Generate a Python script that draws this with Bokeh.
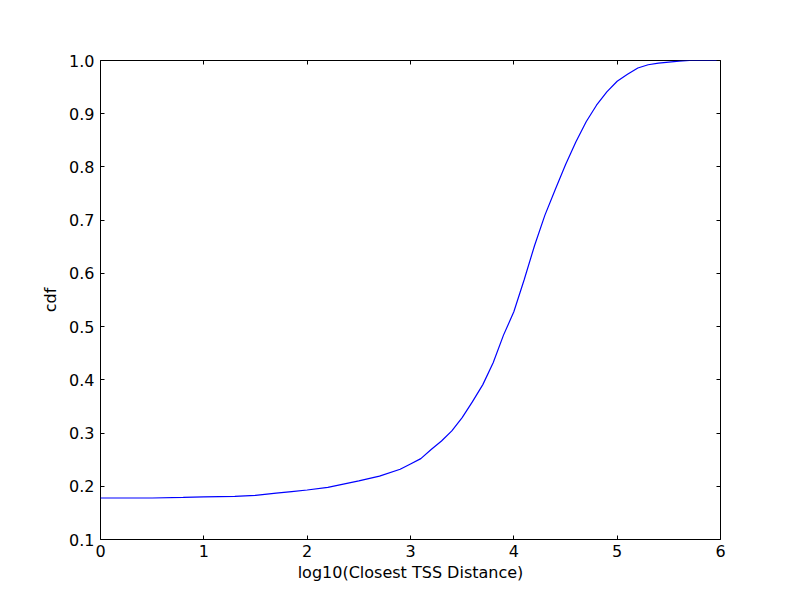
from bokeh.plotting import figure
from bokeh.models import Range1d, LinearAxis, FixedTicker, NumeralTickFormatter
from bokeh.embed import file_html
from bokeh.resources import INLINE

log_dist = [0.0, 0.5, 0.8, 1.0, 1.3, 1.5, 1.7, 1.85, 2.0, 2.2, 2.35, 2.5, 2.7, 2.9, 3.0, 3.1, 3.2,
            3.3, 3.4, 3.5, 3.6, 3.7, 3.8, 3.9, 4.0, 4.1, 4.2, 4.3, 4.4, 4.5, 4.6, 4.7, 4.8,
            4.9, 5.0, 5.1, 5.2, 5.3, 5.4, 5.5, 5.6, 5.7, 6.0]
cdf = [0.178, 0.178, 0.179, 0.180, 0.181, 0.183, 0.187, 0.190, 0.193, 0.198, 0.204, 0.210,
       0.219, 0.232, 0.242, 0.252, 0.269, 0.285, 0.304, 0.329, 0.359, 0.391, 0.432, 0.484,
       0.528, 0.588, 0.652, 0.709, 0.757, 0.804, 0.847, 0.885, 0.916, 0.941, 0.961, 0.974,
       0.986, 0.992, 0.995, 0.997, 0.999, 1.0, 1.0]

x_ticks = [0, 1, 2, 3, 4, 5, 6]
y_ticks = [0.1, 0.2, 0.3, 0.4, 0.5, 0.6, 0.7, 0.8, 0.9, 1.0]

FONT = "DejaVu Sans"

p = figure(width=784, height=584, output_backend="svg", toolbar_location=None,
           x_range=Range1d(0, 6), y_range=Range1d(0.1, 1.0),
           min_border_left=100, min_border_right=64, min_border_top=60, min_border_bottom=44)
p.grid.visible = False
p.outline_line_color = "black"
p.outline_line_width = 1
p.background_fill_color = "white"
p.border_fill_color = "white"

p.line(log_dist, cdf, line_color="#0000ff", line_width=1.2)

def style(ax, labels=True):
    ax.major_tick_in = 4
    ax.major_tick_out = 0
    ax.minor_tick_line_color = None
    ax.axis_line_color = None
    ax.major_tick_line_color = "black"
    ax.major_label_text_font = FONT
    ax.major_label_text_font_size = "16px"
    ax.major_label_text_color = "black" if labels else None
    ax.axis_label_text_font = FONT
    ax.axis_label_text_font_size = "16px"
    ax.axis_label_text_font_style = "normal"
    ax.axis_label_text_color = "black"

p.xaxis.ticker = FixedTicker(ticks=x_ticks)
p.yaxis.ticker = FixedTicker(ticks=y_ticks)
p.yaxis.formatter = NumeralTickFormatter(format="0.0")
p.xaxis.axis_label = "log10(Closest TSS Distance)"
p.yaxis.axis_label = "cdf"
style(p.xaxis[0])
style(p.yaxis[0])
p.xaxis.major_label_standoff = 5
p.yaxis.major_label_standoff = 6
p.xaxis.axis_label_standoff = 3
p.yaxis.axis_label_standoff = 6

top = LinearAxis(ticker=FixedTicker(ticks=x_ticks))
style(top, labels=False)
top.major_label_text_font_size = "0px"
p.add_layout(top, "above")
right = LinearAxis(ticker=FixedTicker(ticks=y_ticks))
style(right, labels=False)
right.major_label_text_font_size = "0px"
p.add_layout(right, "right")

open("out.html", "w").write(file_html(p, INLINE))
